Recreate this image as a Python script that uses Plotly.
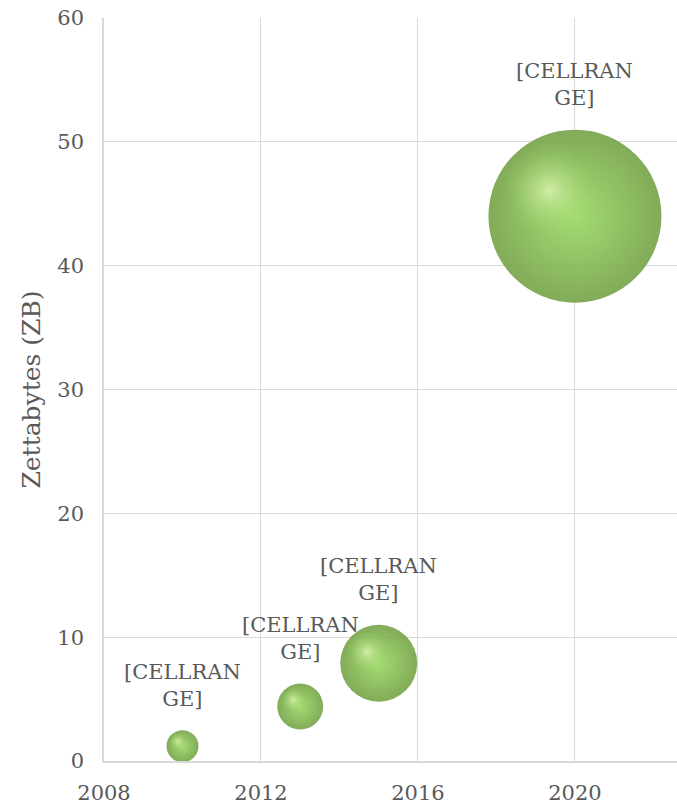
import plotly.graph_objects as go

# Global data volume (zettabytes) by year
years = [2010, 2013, 2015, 2020]
zettabytes = [1.2, 4.4, 7.9, 44]
bubble_size = [1.5, 3.1, 8.7, 44]
point_labels = ["[CELLRAN<br>GE]"] * 4
x_ticks = [2008, 2012, 2016, 2020]
y_ticks = [0, 10, 20, 30, 40, 50, 60]

W, H = 677, 805
M_L, M_R, M_T, M_B = 104, 0, 18, 42
X_RANGE = [2008, 2022.6]
Y_RANGE = [0, 60]
MAX_DIAM = 173

FONT = "DejaVu Serif"
TXT = "#595959"
GRID = "#d9d9d9"

# bubble area proportional to size value
diam = [MAX_DIAM * (s / max(bubble_size)) ** 0.5 for s in bubble_size]

# pixel scale of each axis, used to place the specular highlight on each sphere
px_x = (W - M_L - M_R) / (X_RANGE[1] - X_RANGE[0])
px_y = (H - M_T - M_B) / (Y_RANGE[1] - Y_RANGE[0])
hx = [x - 0.15 * d / px_x for x, d in zip(years, diam)]
hy = [y + 0.15 * d / px_y for y, d in zip(zettabytes, diam)]

fig = go.Figure()
# sphere body: darker rim, lighter core
fig.add_trace(go.Scatter(
    x=years, y=zettabytes, mode="markers",
    marker=dict(size=diam, sizemode="diameter",
                color="#74a246", opacity=0.9,
                gradient=dict(type="radial", color="#9ad862"),
                line=dict(width=0)),
    hoverinfo="skip", cliponaxis=False, showlegend=False,
))
# specular highlight toward the upper left
fig.add_trace(go.Scatter(
    x=hx, y=hy, mode="markers",
    marker=dict(size=[d * 0.55 for d in diam],
                color="rgba(154,216,98,0)",
                gradient=dict(type="radial", color="rgba(240,255,200,0.95)"),
                line=dict(width=0)),
    hoverinfo="skip", showlegend=False,
))

for x, y, d, t in zip(years, zettabytes, diam, point_labels):
    fig.add_annotation(x=x, y=y, text=t, showarrow=False, yanchor="middle",
                       yshift=d / 2 + 45,
                       font=dict(family=FONT, size=21, color=TXT))

fig.update_layout(
    width=W, height=H,
    margin=dict(l=M_L, r=M_R, t=M_T, b=M_B),
    paper_bgcolor="white", plot_bgcolor="white",
    font=dict(family=FONT, size=21, color=TXT),
    xaxis=dict(range=X_RANGE, tickvals=x_ticks, showgrid=True, gridcolor=GRID,
               gridwidth=1.3, zeroline=False, showline=True, linecolor=GRID,
               linewidth=1.5, ticks="outside", ticklen=12, tickcolor="rgba(0,0,0,0)",
               tickfont=dict(family=FONT, size=21, color=TXT)),
    yaxis=dict(range=Y_RANGE, tickvals=y_ticks, showgrid=True, gridcolor=GRID,
               gridwidth=1.3, zeroline=False, showline=True, linecolor=GRID,
               linewidth=1.5, ticks="outside", ticklen=14, tickcolor="rgba(0,0,0,0)",
               tickfont=dict(family=FONT, size=21, color=TXT),
               title=dict(text="Zettabytes (ZB)", standoff=10,
                          font=dict(family=FONT, size=25, color=TXT))),
)

fig.write_html("out.html")
